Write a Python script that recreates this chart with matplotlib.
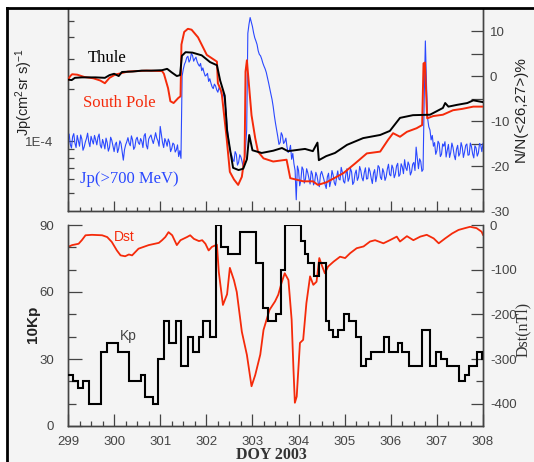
import numpy as np
import matplotlib
matplotlib.use("Agg")
import matplotlib.pyplot as plt
from matplotlib.lines import Line2D
from matplotlib.patches import Rectangle
from matplotlib.ticker import NullFormatter

plt.rcParams["font.family"] = ["Liberation Sans", "DejaVu Sans"]
plt.rcParams["axes.unicode_minus"] = False
plt.rcParams["mathtext.fontset"] = "custom"
plt.rcParams["mathtext.rm"] = "Liberation Sans"
plt.rcParams["mathtext.it"] = "Liberation Sans:italic"

# ---- data (DOY 2003) -------------------------------------------------------
# neutron monitors, N/N(<26,27>) %
thule_day = [299.00, 299.08, 299.15, 299.30, 299.60, 299.80, 299.90, 300.00, 300.10, 300.17,
             300.40, 300.60, 300.80, 301.04, 301.15, 301.25, 301.36, 301.43, 301.47, 301.55,
             301.70, 301.80, 301.90, 302.08, 302.23, 302.30, 302.40, 302.45, 302.52, 302.58,
             302.70, 302.80, 302.88, 302.93, 303.00, 303.20, 303.45, 303.64, 303.77, 304.14,
             304.31, 304.41, 304.44, 304.60, 304.79, 305.05, 305.40, 305.77, 305.98, 306.20,
             306.48, 306.85, 307.13, 307.18, 307.25, 307.44, 307.66, 307.79, 308.00]
thule_pct = [-0.8, -0.9, -0.4, -0.3, -0.3, -0.4, 0.2, 0.5, 0.0, 0.9,
             1.0, 1.2, 1.2, 1.3, 1.6, 0.8, 0.0, 0.2, 4.5, 5.3,
             5.2, 4.9, 4.6, 3.1, 2.4, -1.0, -4.4, -12.2, -16.7, -20.4,
             -20.9, -20.6, -18.5, -13.1, -16.5, -17.1, -16.6, -16.0, -16.7, -16.2,
             -16.7, -14.8, -18.7, -17.8, -17.1, -15.3, -13.8, -13.1, -12.2, -9.3,
             -8.7, -8.6, -7.1, -6.0, -6.8, -6.4, -6.0, -5.4, -5.8]

south_day = [299.00, 299.05, 299.09, 299.20, 299.35, 299.55, 299.70, 299.80, 299.90, 300.02,
             300.30, 300.70, 301.04, 301.08, 301.17, 301.22, 301.29, 301.39, 301.44, 301.46,
             301.52, 301.60, 301.68, 301.82, 302.01, 302.23, 302.25, 302.33, 302.44, 302.51,
             302.60, 302.69, 302.77, 302.83, 302.85, 302.88, 302.90, 302.98, 303.06, 303.12,
             303.24, 303.45, 303.74, 303.82, 304.10, 304.31, 304.42, 304.61, 304.97, 305.23,
             305.48, 305.77, 305.94, 306.05, 306.20, 306.35, 306.56, 306.68, 306.71, 306.74,
             306.79, 306.92, 307.13, 307.35, 307.55, 307.79, 308.00]
south_pct = [-0.8, 0.0, 0.4, 0.3, -0.2, -0.5, -1.0, -1.6, -0.4, 0.3,
             1.0, 1.2, 1.1, 0.5, -2.7, -5.6, -6.0, -4.9, -4.5, 7.0,
             9.8, 10.5, 10.3, 8.6, 4.7, 3.2, -1.6, -3.5, -13.8, -21.3,
             -23.0, -24.2, -22.4, -18.0, 1.0, 3.5, 1.0, -8.7, -13.8, -16.8,
             -18.3, -19.0, -18.6, -22.7, -23.4, -23.4, -24.2, -23.6, -21.6, -19.4,
             -17.2, -16.8, -14.2, -12.7, -13.5, -12.4, -11.6, -10.9, 2.8, 3.0,
             -9.4, -8.9, -8.6, -7.6, -7.3, -6.8, -6.8]

# proton flux Jp(>700 MeV), one value every 0.025 day from 299.0, read on the % scale
blue_start, blue_step = 299.0, 0.025
blue_pct = [
    -13.8, -12.9, -15.2, -16.0, -13.5, -12.8, -14.9, -15.9, -13.2, -14.4,
    -15.6, -13.1, -14.0, -16.5, -15.8, -14.7, -13.9, -12.7, -14.6, -15.7,
    -13.4, -14.3, -15.1, -13.2, -14.2, -15.3, -13.6, -12.9, -15.4, -16.0,
    -14.1, -15.0, -16.2, -13.8, -14.8, -16.7, -15.9, -13.6, -14.3, -15.5,
    -16.8, -15.2, -14.7, -17.0, -16.1, -14.4, -15.0, -16.9, -18.7, -16.4,
    -15.3, -14.6, -13.7, -14.9, -15.5, -13.3, -14.2, -16.3, -15.8, -14.1,
    -13.6, -14.8, -15.2, -13.9, -14.5, -15.9, -13.3, -12.8, -15.4, -16.2,
    -14.0, -13.5, -13.1, -14.2, -15.0, -13.9, -12.6, -13.8, -14.4, -15.6,
    -11.2, -13.0, -14.8, -15.9, -13.9, -14.6, -15.6, -14.0, -14.7, -16.8,
    -16.1, -14.9, -15.2, -16.9, -16.4, -15.3, -17.9, -16.6, -18.3, 0.0,
    1.5, 2.6, 3.2, 4.1, 4.4, 3.1, 3.6, 5.0, 4.6, 3.3,
    3.8, 4.2, 3.2, 2.6, 2.2, 2.8, 1.2, 1.8, 0.8, 0.0,
    0.2, 0.6, -1.2, -0.6, -1.6, -2.4, -2.8, -1.8, -2.2, -3.1,
    -3.6, -2.6, -3.0, -4.0, -4.6, -3.9, -5.8, -7.5, -11.0, -13.5,
    -15.5, -17.0, -17.6, -18.6, -19.0, -16.8, -17.4, -19.8, -19.2, -17.5,
    -18.0, -19.0, -20.2, -18.6, -16.0, -12.0, 9.5, 11.5, 13.0, 12.0,
    11.0, 9.6, 8.5, 7.8, 7.0, 5.6, 4.8, 4.5, 3.8, 2.9,
    2.2, 1.6, 0.8, -0.3, -1.5, -2.8, -4.0, -5.2, -6.8, -8.8,
    -10.5, -12.0, -13.5, -15.2, -14.8, -12.6, -13.2, -15.0, -14.6, -13.8,
    -15.8, -17.0, -16.6, -15.4, -18.5, -17.2, -19.5, -21.0, -27.5, -20.0,
    -21.0, -24.4, -23.2, -20.2, -20.8, -23.8, -22.9, -20.6, -21.5, -22.8,
    -24.0, -21.1, -21.8, -24.2, -23.5, -21.4, -22.2, -23.7, -24.6, -21.9,
    -21.2, -22.1, -23.0, -24.1, -25.0, -22.4, -21.6, -24.6, -23.4, -21.0,
    -22.0, -23.7, -24.3, -22.5, -21.1, -22.9, -23.1, -20.3, -21.4, -23.4,
    -23.8, -21.9, -20.6, -23.4, -22.7, -20.5, -21.3, -24.1, -23.6, -21.7,
    -20.9, -23.2, -22.5, -20.1, -21.0, -22.6, -23.3, -21.5, -20.4, -22.9,
    -22.8, -20.4, -21.2, -22.7, -23.9, -21.6, -20.8, -23.5, -22.1, -19.9,
    -20.3, -22.5, -23.0, -20.6, -21.4, -23.2, -22.4, -20.7, -19.6, -21.9,
    -22.2, -19.8, -20.5, -22.6, -21.8, -20.0, -19.4, -22.3, -21.9, -19.5,
    -20.2, -21.7, -18.6, -20.4, -21.0, -19.1, -19.8, -22.0, -21.3, -19.6,
    -19.2, -21.0, -15.8, -18.2, -20.6, -18.4, -19.0, -21.2, -20.8, -5.0,
    7.8, -2.0, -9.5, -11.3, -12.0, -14.2, -13.2, -15.6, -14.8, -17.4,
    -16.6, -14.5, -15.0, -17.9, -17.4, -15.1, -15.6, -14.6, -18.0, -16.5,
    -15.2, -18.1, -17.0, -14.9, -15.9, -17.6, -18.6, -16.3, -15.4, -17.8,
    -17.2, -14.8, -15.8, -18.1, -16.9, -15.4, -15.1, -17.6, -17.5, -14.9,
    -15.7, -17.3, -18.2, -15.5, -16.0, -17.8, -17.1, -15.0, -15.3, -16.8,
    -15.0]
blue_day = blue_start + blue_step * np.arange(len(blue_pct))

# 10Kp, step edges and values
kp_edges = [299.00, 299.10, 299.21, 299.32, 299.46, 299.71, 299.84, 300.08, 300.33, 300.59,
            300.68, 300.85, 300.96, 301.08, 301.20, 301.35, 301.46, 301.60, 301.71, 301.84,
            301.92, 302.07, 302.21, 302.32, 302.47, 302.72, 303.08, 303.23, 303.33, 303.52,
            303.62, 303.71, 304.06, 304.14, 304.21, 304.34, 304.45, 304.59, 304.66, 304.75,
            304.85, 304.98, 305.10, 305.24, 305.35, 305.47, 305.58, 305.86, 305.96, 306.15,
            306.25, 306.40, 306.68, 306.84, 306.98, 307.09, 307.23, 307.49, 307.60, 307.70,
            307.88, 307.98, 308.00]
kp10 = [23, 20, 17, 20, 10, 33, 37, 33, 20, 23,
        13, 10, 30, 47, 37, 47, 27, 40, 33, 40,
        47, 40, 90, 80, 77, 87, 73, 53, 47, 50,
        70, 90, 83, 77, 73, 67, 73, 47, 43, 40,
        43, 50, 47, 40, 27, 30, 33, 40, 33, 37,
        33, 27, 43, 27, 33, 30, 27, 20, 23, 27,
        33, 30]

# Dst (nT)
dst_day = [299.00, 299.09, 299.23, 299.30, 299.38, 299.52, 299.74, 299.85, 299.95, 300.06,
           300.14, 300.24, 300.32, 300.39, 300.53, 300.75, 300.97, 301.04, 301.11, 301.18,
           301.26, 301.36, 301.44, 301.58, 301.65, 301.73, 301.84, 301.91, 301.98, 302.05,
           302.12, 302.23, 302.27, 302.36, 302.45, 302.51, 302.60, 302.66, 302.77, 302.88,
           302.98, 303.06, 303.17, 303.24, 303.37, 303.49, 303.56, 303.63, 303.70, 303.78,
           303.85, 303.89, 303.92, 303.96, 304.03, 304.10, 304.17, 304.25, 304.32, 304.39,
           304.45, 304.50, 304.57, 304.64, 304.76, 304.90, 305.01, 305.12, 305.26, 305.41,
           305.55, 305.66, 305.84, 305.98, 306.13, 306.20, 306.35, 306.49, 306.64, 306.78,
           306.93, 307.04, 307.18, 307.33, 307.47, 307.61, 307.72, 307.86, 307.97, 308.00]
dst_nt = [-49, -45, -42, -34, -23, -22, -23, -27, -38, -57,
          -68, -70, -66, -68, -53, -45, -40, -34, -27, -16,
          -23, -45, -34, -27, -23, -31, -36, -34, -42, -57,
          -49, -44, -105, -179, -155, -96, -124, -150, -239, -291,
          -361, -336, -290, -235, -190, -171, -156, -130, -108, -123,
          -212, -324, -398, -384, -264, -257, -175, -115, -134, -127,
          -74, -89, -108, -93, -82, -71, -74, -63, -52, -48,
          -37, -34, -41, -34, -26, -37, -25, -34, -26, -22,
          -30, -41, -30, -19, -11, -7, -4, -7, -15, -22]

RED = "#f52a0a"
BLUE = "#2a48ff"
GREY = "#444444"

# ---- figure ------------------------------------------------------------------
W, H = 534, 462
fig = plt.figure(figsize=(W / 100, H / 100), dpi=100)
fig.patch.set_facecolor("white")


def fx(px):
    return px / W


def fy(py):
    return 1 - py / H


# grey panel + black frame (left and top edges), kept behind the axes
fig.patches.append(Rectangle((fx(7), 0), 1 - fx(7), fy(8), transform=fig.transFigure,
                             facecolor="#f4f4f4", edgecolor="none", zorder=-10))
fig.add_artist(Line2D([fx(7), fx(7)], [0, fy(8)], color="black", lw=2.0, zorder=10))
fig.add_artist(Line2D([fx(7), 1], [fy(8), fy(8)], color="black", lw=2.0, zorder=10))


def style_spines(ax, top=False):
    for name, sp in ax.spines.items():
        sp.set_color(GREY)
        sp.set_linewidth(1.0)
    ax.spines["top"].set_visible(top)


ax_l = fig.add_axes([fx(68), fy(211), (483 - 68) / W, (211 - 9) / H])
ax_l.set_facecolor("none")
ax_r = ax_l.twinx()

ax_l.set_yscale("log")
ax_l.set_ylim(3.92e-5, 5.85e-4)
ax_l.set_yticks([1e-4], ["1E-4"])
ax_l.set_yticks([5e-5, 6e-5, 7e-5, 8e-5, 9e-5, 2e-4, 3e-4, 4e-4, 5e-4], minor=True)
ax_l.yaxis.set_minor_formatter(NullFormatter())
ax_l.tick_params(axis="y", which="both", direction="in", length=4.5, width=0.9,
                 colors=GREY, labelsize=9.5, pad=11)

ax_l.set_xlim(299, 308)
ax_l.set_xticks(range(299, 309))
ax_l.set_xticks(np.arange(299, 308.01, 0.25), minor=True)
ax_l.tick_params(axis="x", which="major", direction="in", length=7, width=0.9,
                 colors=GREY, labelbottom=False)
ax_l.tick_params(axis="x", which="minor", direction="in", length=3.2, width=0.9, colors=GREY)

ax_r.set_ylim(-30, 14.9)
ax_r.set_yticks([10, 0, -10, -20, -30], ["10", "0", "-10", "-20", "-30"])
ax_r.set_yticks([5, -5, -15, -25], minor=True)
ax_r.tick_params(axis="y", which="both", direction="in", length=8.5, width=0.9,
                 colors=GREY, labelsize=9.5, pad=5)

ax_r.plot(blue_day, blue_pct, color=BLUE, lw=0.8, zorder=2)
ax_r.plot(south_day, south_pct, color=RED, lw=1.4, zorder=3)
ax_r.plot(thule_day, thule_pct, color="black", lw=1.4, zorder=4)

style_spines(ax_l)
style_spines(ax_r)

# bottom panel
bx_l = fig.add_axes([fx(68), fy(426), (483 - 68) / W, (426 - 225) / H])
bx_l.set_facecolor("none")
bx_r = bx_l.twinx()

bx_l.set_ylim(0, 90)
bx_l.set_yticks([0, 30, 60, 90], ["0", "30", "60", "90"])
bx_l.set_yticks([10, 20, 40, 50, 70, 80], minor=True)
bx_l.tick_params(axis="y", which="major", direction="in", length=10, width=0.9,
                 colors=GREY, labelsize=9.5, pad=10)
bx_l.tick_params(axis="y", which="minor", direction="in", length=5.5, width=0.9, colors=GREY)

bx_l.set_xlim(299, 308)
bx_l.set_xticks(range(299, 309), [str(d) for d in range(299, 309)])
bx_l.set_xticks(np.arange(299, 308.01, 0.25), minor=True)
bx_l.tick_params(axis="x", which="major", direction="in", length=8.5, width=0.9,
                 colors=GREY, labelsize=9.5, pad=7)
bx_l.tick_params(axis="x", which="minor", direction="in", length=3.5, width=0.9, colors=GREY)

bx_r.set_ylim(-450, 0)
bx_r.set_yticks([0, -100, -200, -300, -400], ["0", "-100", "-200", "-300", "-400"])
bx_r.set_yticks([-50, -150, -250, -350], minor=True)
bx_r.tick_params(axis="y", which="major", direction="in", length=8.5, width=0.9,
                 colors=GREY, labelsize=9.5, pad=5)
bx_r.tick_params(axis="y", which="minor", direction="in", length=5, width=0.9, colors=GREY)

bx_r.plot(dst_day, dst_nt, color=RED, lw=1.3, zorder=2)
bx_l.stairs(kp10, kp_edges, color="black", lw=1.5, baseline=None, zorder=3)
bx_l.set_zorder(bx_r.get_zorder() + 1)

style_spines(bx_l)
style_spines(bx_r)

# ---- texts ---------------------------------------------------------------------
serif = ["Liberation Serif", "DejaVu Serif"]
fig.text(fx(107), fy(58), "Thule", color="black", fontsize=12, family=serif,
         ha="center", va="center")
fig.text(fx(119), fy(103), "South Pole", color=RED, fontsize=12, family=serif,
         ha="center", va="center")
fig.text(fx(129), fy(179), "Jp(>700 MeV)", color=BLUE, fontsize=12, family=serif,
         ha="center", va="center")

fig.text(fx(24), fy(92), r"Jp(cm$^2$sr s)$^{-1}$", rotation=90, fontsize=10.5,
         color="#222222", ha="center", va="center")
fig.text(fx(521), fy(109), "N/N(<26,27>)%", rotation=90, fontsize=11,
         color="#222222", ha="center", va="center")

fig.text(fx(124), fy(237), "Dst", color=RED, fontsize=10, ha="center", va="center")
fig.text(fx(128), fy(336), "Kp", color=GREY, fontsize=10, ha="center", va="center")

fig.text(fx(33), fy(324), "10Kp", rotation=90, fontsize=11, fontweight="bold",
         color="#222222", ha="center", va="center")
fig.text(fx(523), fy(329), "Dst(nTl)", rotation=90, fontsize=11.5, family=serif,
         color="#333333", ha="center", va="center")
fig.text(fx(271), fy(455), "DOY 2003", fontsize=11.5, family=serif, fontweight="bold",
         color="#333333", ha="center", va="center")

fig.savefig("out.png", dpi=100)
